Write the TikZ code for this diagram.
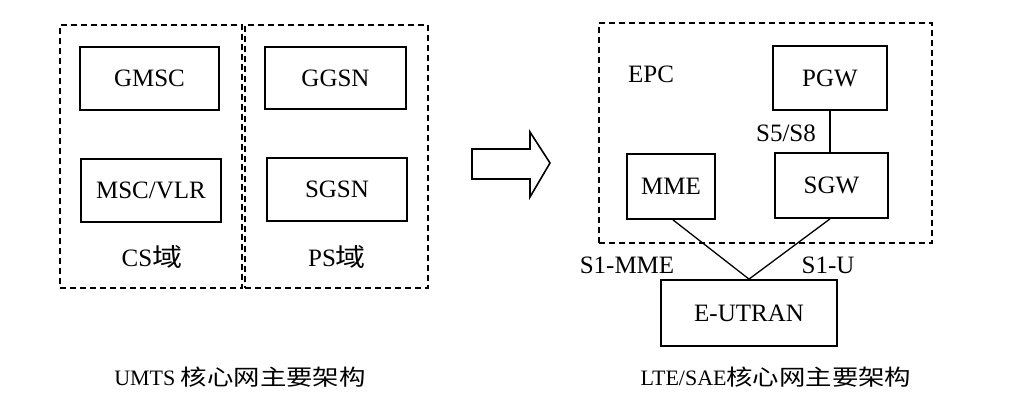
\documentclass[tikz,border=0pt]{standalone}
\usepackage{fontspec}
\setmainfont{Liberation Serif}
\newfontfamily\cjk[FakeStretch=1.2]{Noto Sans CJK SC}
\begin{document}
\begin{tikzpicture}[x=1pt,y=-1pt,
  every node/.style={font=\fontsize{25}{30}\selectfont},
  nebox/.style={draw,line width=1.8pt,inner sep=0pt,anchor=center},
  dombox/.style={draw,line width=1.8pt,dash pattern=on 6pt off 4pt,inner sep=0pt},
  lbl/.style={inner sep=0pt},
  caption/.style={inner sep=0pt,font=\fontsize{22}{26}\selectfont},
  link/.style={line width=1.3pt}]
\useasboundingbox (0,0) rectangle (1024,413);
% left domains
\node[dombox,minimum width=182pt,minimum height=263pt] (cs) at (151,156.5) {};
\node[dombox,minimum width=183pt,minimum height=263pt] (ps) at (336.5,156.5) {};
\node[nebox,minimum width=139pt,minimum height=63pt] (gmsc) at (149.5,78.5) {GMSC};
\node[nebox,minimum width=140pt,minimum height=63pt] (msc) at (151,190.5) {MSC/VLR};
\node[nebox,minimum width=141pt,minimum height=62pt] (ggsn) at (335.5,78) {GGSN};
\node[nebox,minimum width=140pt,minimum height=63pt] (sgsn) at (337,189.5) {SGSN};
\node[lbl] (cslbl) at (152,257) {CS{\cjk 域}};
\node[lbl] (pslbl) at (337,257) {PS{\cjk 域}};
% arrow
\draw[line width=1.6pt,line join=miter] (472,149) -- (530,149) -- (530,132) -- (550,163) -- (530,197) -- (530,179) -- (472,179) -- cycle;
% right
\node[dombox,minimum width=333pt,minimum height=220pt] (epc) at (765.5,133) {};
\node[lbl] (epclbl) at (651,74) {EPC};
\node[nebox,minimum width=114pt,minimum height=64pt] (pgw) at (830,78) {PGW};
\node[nebox,minimum width=88pt,minimum height=65pt] (mme) at (671,186.5) {MME};
\node[nebox,minimum width=113pt,minimum height=65pt] (sgw) at (831.5,185.5) {SGW};
\node[nebox,minimum width=176pt,minimum height=66pt] (eu) at (749,313) {E-UTRAN};
\draw[link] (pgw.south) -- (pgw.south |- sgw.north);
\node[lbl] (s5) at (786,133) {S5/S8};
\draw[link] ([xshift=2pt]mme.south) -- (eu.north);
\draw[link] ([xshift=-1.5pt]sgw.south) -- (eu.north);
\node[lbl] (s1mme) at (627,265) {S1-MME};
\node[lbl] (s1u) at (828,265) {S1-U};
% captions
\node[caption] (cap1) at (240,377) {UMTS {\cjk 核心网主要架构}};
\node[caption] (cap2) at (776,377) {LTE/SAE{\cjk 核心网主要架构}};
\end{tikzpicture}
\end{document}
